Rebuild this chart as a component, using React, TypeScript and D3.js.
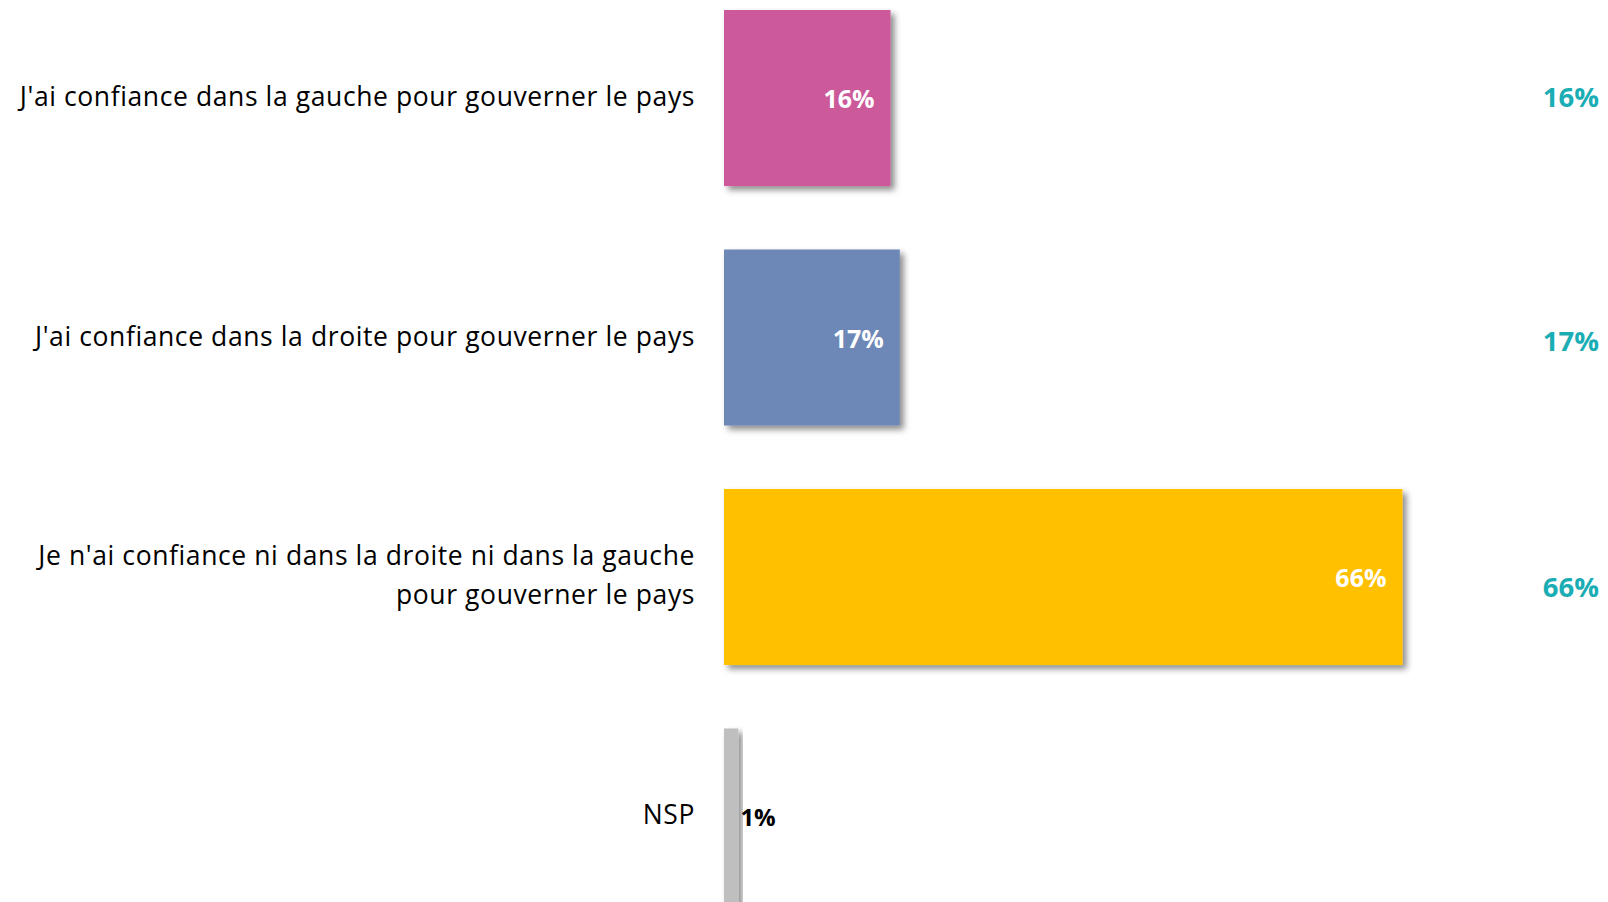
import React, { useEffect } from "react";
import * as d3 from "d3";

const categories: string[][] = [
  ["J'ai confiance dans la gauche pour gouverner le pays"],
  ["J'ai confiance dans la droite pour gouverner le pays"],
  ["Je n'ai confiance ni dans la droite ni dans la gauche", "pour gouverner le pays"],
  ["NSP"],
];
const values: number[] = [16.2, 17.1, 66, 1.4];
const labels: string[] = ["16%", "17%", "66%", "1%"];
const totals: string[] = ["16%", "17%", "66%", ""];
const colors: string[] = ["#CC5A9B", "#6D87B6", "#FFC000", "#BFBFBF"];

const W = 1608;
const H = 902;
const FONT = "'Open Sans', sans-serif";

export default function App() {
  useEffect(() => {
    document.body.style.margin = "0";
    document.body.style.overflow = "hidden";
  }, []);

  const keys = categories.map((_, i) => String(i));
  const x = d3.scaleLinear().domain([0, 100]).range([724, 724 + 1028]);
  const y = d3.scaleBand<string>().domain(keys).range([10, 904.5]).paddingInner(0.265).paddingOuter(0);
  const totalDy = [-2, 3, 10, 0];
  const labelX = 695;

  return (
    <svg width={W} height={H} style={{ display: "block", background: "#fff" }}>
      <defs>
        <filter id="shadow" x="-20%" y="-20%" width="150%" height="150%">
          <feDropShadow dx="4" dy="4" stdDeviation="3" floodColor="#000" floodOpacity="0.45" />
        </filter>
      </defs>
      {keys.map((k, i) => {
        const y0 = y(k)!;
        const bw = y.bandwidth();
        const cy = y0 + bw / 2;
        const x0 = x(0);
        const x1 = x(values[i]);
        const lines = categories[i];
        const lh = 39;
        const inside = x1 - x0 > 60;
        return (
          <g key={k}>
            <rect x={x0} y={y0} width={x1 - x0} height={bw} fill={colors[i]} filter="url(#shadow)" />
            <text
              x={labelX}
              y={cy - 2 - ((lines.length - 1) * lh) / 2}
              textAnchor="end"
              dominantBaseline="central"
              fontFamily={FONT}
              fontSize={26.5}
              letterSpacing={0.6}
              fill="#000"
            >
              {lines.map((l, j) => (
                <tspan key={j} x={labelX} dy={j === 0 ? 0 : lh}>
                  {l}
                </tspan>
              ))}
            </text>
            {inside ? (
              <text
                x={x1 - 16}
                y={cy}
                textAnchor="end"
                dominantBaseline="central"
                fontFamily={FONT}
                fontWeight="bold"
                fontSize={25}
                fill="#fff"
              >
                {labels[i]}
              </text>
            ) : (
              <text
                x={x1 + 2}
                y={cy}
                textAnchor="start"
                dominantBaseline="central"
                fontFamily={FONT}
                fontWeight="bold"
                fontSize={24}
                fill="#000"
              >
                {labels[i]}
              </text>
            )}
            {totals[i] && (
              <text
                x={1599}
                y={cy + totalDy[i]}
                textAnchor="end"
                dominantBaseline="central"
                fontFamily={FONT}
                fontWeight="bold"
                fontSize={27.5}
                fill="#1AADB4"
              >
                {totals[i]}
              </text>
            )}
          </g>
        );
      })}
    </svg>
  );
}
